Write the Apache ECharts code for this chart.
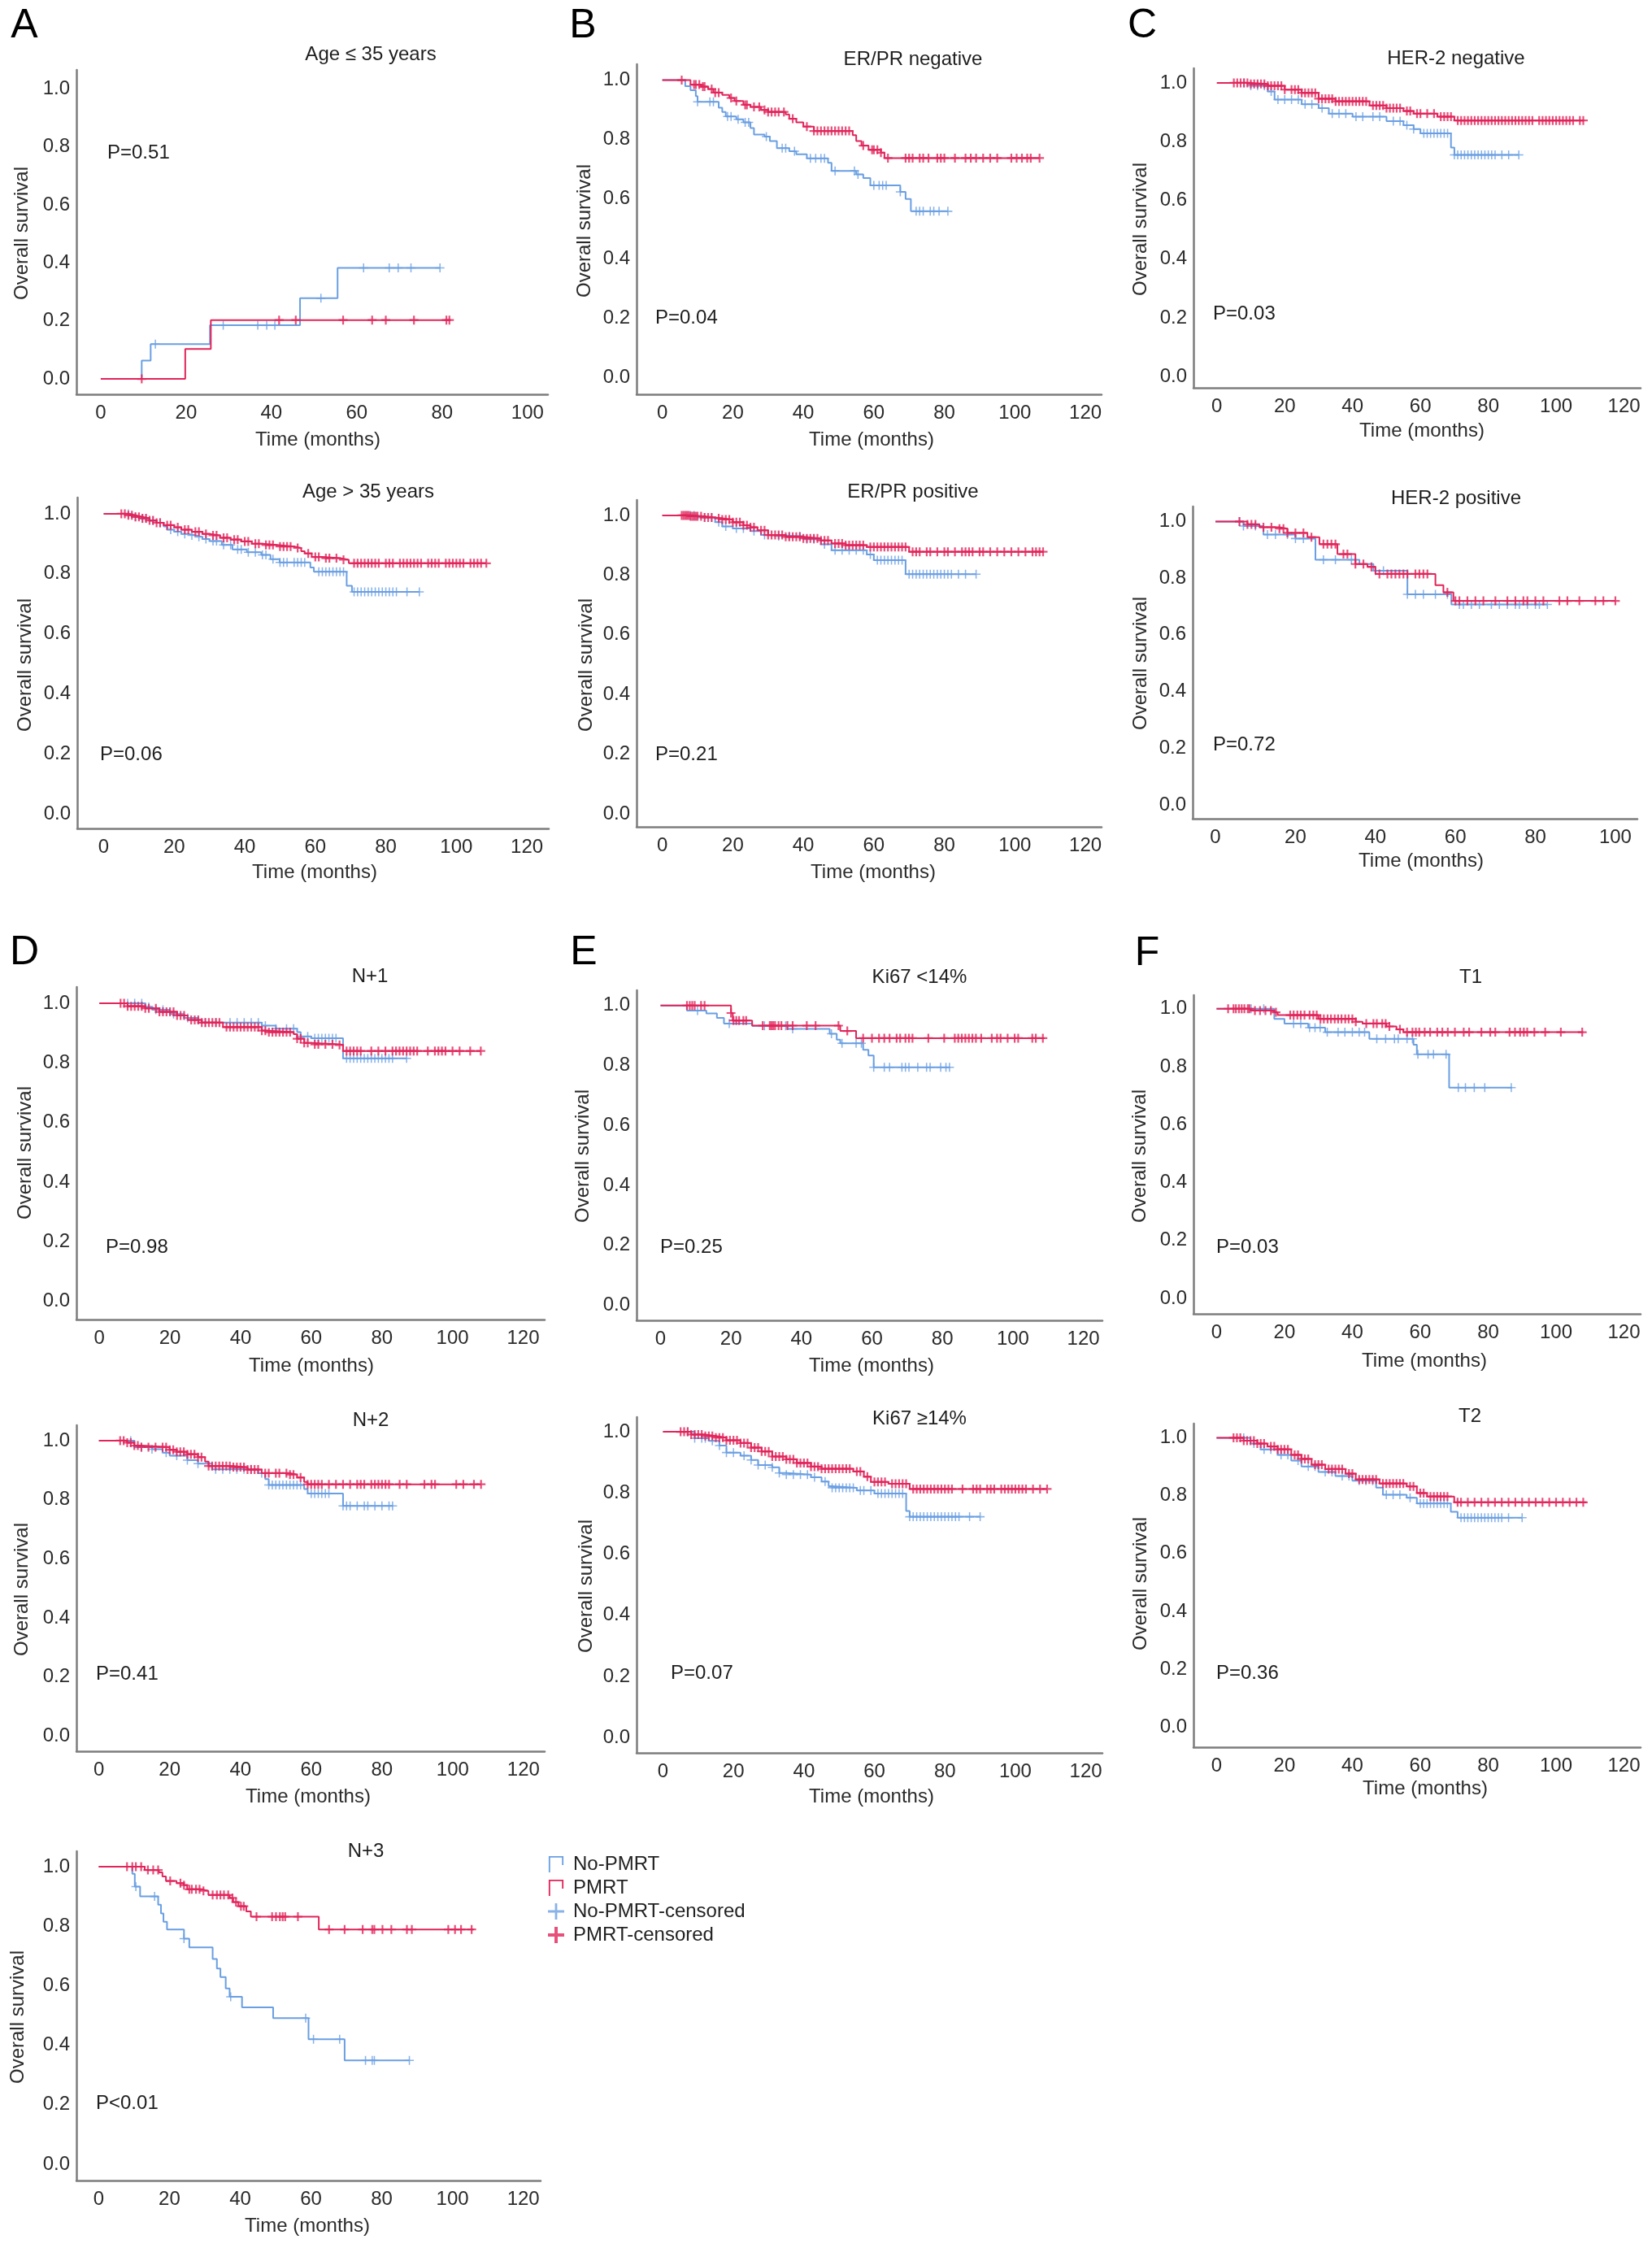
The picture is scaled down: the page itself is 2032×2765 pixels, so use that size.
<!DOCTYPE html>
<html>
<head>
<meta charset="utf-8">
<script src="https://cdn.jsdelivr.net/npm/echarts@6/dist/echarts.min.js"></script>
<style>
html,body{margin:0;padding:0;background:#fff;}
#chart{width:2032px;height:2765px;}
</style>
</head>
<body>
<div id="chart"></div>
<script>
// ---------------- DATA ----------------
const xTicks100 = [0, 20, 40, 60, 80, 100];
const xTicks120 = [0, 20, 40, 60, 80, 100, 120];
const yTicks = [0, 0.2, 0.4, 0.6, 0.8, 1.0];

const panelTitles = ['Age \u2264 35 years','Age > 35 years','ER/PR negative','ER/PR positive','HER-2 negative','HER-2 positive','N+1','N+2','N+3','Ki67 <14%','Ki67 \u226514%','T1','T2'];
const pValues = ['P=0.51','P=0.06','P=0.04','P=0.21','P=0.03','P=0.72','P=0.98','P=0.41','P<0.01','P=0.25','P=0.07','P=0.03','P=0.36'];
const panelLetters = ['A','B','C','D','E','F'];
const seriesNames = ['No-PMRT','PMRT','No-PMRT-censored','PMRT-censored'];

// Kaplan-Meier steps: [time (months), survival after the step]; censored times
const a1NoPmrt = [[0,0],[9.6,0.063],[11.7,0.12],[25.6,0.185],[46.7,0.278],[55.5,0.383],[79.5,0.383]];
const a1Pmrt = [[0,0],[19.8,0.103],[25.8,0.203],[81.9,0.203]];
const a1NoPmrtCens = [12.8,28.7,36.8,38.9,40.8,51.6,61.6,67.6,69.7,72.7,79.5];
const a1PmrtCens = [9.6,41.8,45.7,56.8,63.6,66.8,73.4,81,81.7];

const a2NoPmrt = [[0,1],[6,1],[8,0.99],[10,0.984],[13,0.977],[15,0.97],[17,0.958],[18,0.947],[20,0.94],[22,0.933],[24,0.928],[26,0.923],[28,0.916],[30,0.909],[33.5,0.896],[36.5,0.881],[40.6,0.872],[44.7,0.863],[47.3,0.849],[49.9,0.838],[58.6,0.821],[59.6,0.807],[68.9,0.76],[70.4,0.74],[89.5,0.74]];
const a2Pmrt = [[0,1],[5,1],[7,0.995],[9,0.99],[11,0.985],[13,0.978],[15,0.97],[17,0.962],[20,0.955],[22,0.947],[25,0.94],[28,0.933],[30,0.928],[33,0.92],[36,0.914],[39,0.908],[42,0.9],[45,0.896],[49,0.891],[54,0.886],[56,0.875],[57,0.868],[59,0.856],[62,0.852],[67,0.847],[69.5,0.835],[108.5,0.835]];
const a2NoPmrtCens = [7,9,11,12,14,16,19,21,23,25,27,29,31,32,34,36,38,39,41,43,45,46,48,50,51,52,54,55,56,57,61,62,63,64,65,66,67,68,71,72,73,74,75,76,77,78,79,80,81,82,83,86,89.5];
const a2PmrtCens = [5,6,7,8,9,10,11,12,13,14,15,16,18,19,21,23,24,26,27,29,31,32,34,35,37,38,40,41,43,44,46,47,48,50,51,52,53,55,58,60,61,63,64,66,68,71,72,73,74,75,76,77,78,80,81,82,84,85,86,87,88,89,90,92,93,94,95,97,98,99,100,101,102,104,105,106,107,108.5];

const b1NoPmrt = [[0,1],[6,1],[6.5,0.98],[8,0.966],[9.5,0.946],[10,0.927],[16,0.907],[17,0.893],[18,0.878],[21,0.868],[23,0.858],[25,0.839],[26,0.817],[29,0.81],[30.5,0.795],[32.5,0.771],[36,0.761],[38,0.751],[41,0.737],[47,0.722],[48,0.695],[55,0.683],[57,0.671],[59,0.646],[67.5,0.624],[69,0.6],[70.5,0.559],[81,0.559]];
const b1Pmrt = [[0,1],[6,1],[8,0.985],[11,0.978],[13,0.97],[14.5,0.958],[17,0.95],[19,0.94],[20.5,0.93],[23,0.917],[25,0.91],[28,0.9],[30,0.893],[35,0.885],[36,0.87],[38,0.858],[40,0.844],[43,0.829],[54,0.815],[55,0.795],[56.5,0.78],[58.5,0.766],[62,0.756],[63,0.738],[107,0.738]];
const b1NoPmrtCens = [10,13.5,14.5,18.5,19.5,21.5,23.5,24.5,29.5,34,35,37.5,42,43.5,45,46,49,54.5,55.5,60,61.5,62.5,63.5,67.5,72,73,74,76,77,78.5,81];
const b1PmrtCens = [5.5,9,9.5,10.5,11.5,12,14,15,16,19.5,21,23.5,24,26,27.5,29,30,31,32,33,34.5,37,41,43,44,45,46,47,48,49,50,51,52,53,57,59.5,60,61,62,64,69,70,71,73,74,75.5,78,79,80,83,86,87.5,89,91,93,95,99,100.5,102,103.5,104.5,107];

const b2NoPmrt = [[0,1],[5,1],[10,0.993],[15,0.977],[17,0.963],[20,0.956],[25,0.947],[28,0.934],[30,0.93],[40,0.92],[45,0.903],[48,0.883],[58,0.869],[60,0.85],[69,0.803],[89,0.803]];
const b2Pmrt = [[0,1],[5,1],[8,0.997],[12,0.993],[15,0.99],[17,0.986],[20,0.977],[23,0.967],[25,0.96],[27,0.95],[30,0.934],[35,0.928],[40,0.923],[45,0.916],[48,0.906],[52,0.9],[58,0.894],[70,0.878],[108,0.878]];
const b2NoPmrtCens = [8,9,12,14,16,18,21,23,26,29,33,36,39,41,43,46,49,51,53,55,57,59,61,62,63,64,65,66,67,68,70,71,72,73,74,75,76,77,78,79,80,81,82,84,86,89];
const b2PmrtCens = [5.5,6,6.5,7,7.5,8,8.5,9,9.5,10,11,12,13,14,16,17,18,19,20,21,22,23,24,25,26,28,29,30,31,32,33,34,35,36,37,38,39,40,41,42,43,44,45,46,47,49,50,51,52,53,54,55,56,57,59,60,61,62,63,64,65,66,67,68,69,71,72,73,75,76,78,80,81,83,85,86,87,88,90,91,93,95,97,99,101,103,105,106,107,108];

const c1NoPmrt = [[0,1],[5,1],[10,0.99],[15,0.971],[17,0.943],[25,0.927],[30,0.914],[33,0.895],[40,0.885],[50,0.87],[55,0.856],[58,0.843],[60,0.828],[69,0.78],[70,0.755],[89,0.755]];
const c1Pmrt = [[0,1],[5,1],[10,0.996],[15,0.99],[20,0.977],[25,0.966],[30,0.946],[35,0.937],[45,0.923],[50,0.914],[55,0.904],[58,0.895],[65,0.885],[70,0.872],[108,0.872]];
const c1NoPmrtCens = [8,10,12,14,16,18,20,22,24,26,28,31,34,36,38,41,43,46,48,52,54,56,58,61,62,63,64,65,66,67,68,70,71,72,73,74,75,76,77,78,79,80,81,82,84,86,89];
const c1PmrtCens = [5,6,7,8,9,10,11,12,13,14,15,16,17,18,19,20,22,23,24,25,26,27,28,29,30,31,32,33,34,35,36,37,38,39,40,41,42,43,44,46,47,48,49,50,51,52,53,54,56,57,59,60,62,64,66,67,68,69,71,72,73,74,75,76,77,78,79,80,81,82,83,84,85,86,87,88,89,90,91,92,93,95,96,97,98,99,100,101,102,103,104,105,107,108];

const c2NoPmrt = [[0,1],[6,1],[7,0.984],[12,0.954],[20,0.94],[25,0.865],[36,0.85],[39.5,0.826],[48,0.743],[59,0.707],[83,0.707]];
const c2Pmrt = [[0,1],[6,1],[8,0.99],[11,0.98],[16,0.975],[18,0.96],[23,0.945],[26,0.92],[30.5,0.885],[35,0.85],[38,0.84],[40,0.815],[55,0.775],[57,0.75],[59.5,0.72],[100,0.72]];
const c2NoPmrtCens = [6,7,10,13,15,18,20,22,27,30,34,40,42,48,50,52,55,58,61,62,64,66,69,71,73,75,76,78,80,81,83];
const c2PmrtCens = [6,8,9,10,12,14,16,17,18,20,22,24,27,28,29,30,32,33,35,37,39,41,43,44,45,46,47,48,50,51,52,53,58,60,61,63,65,67,70,73,75,77,78,80,82,86,88,91,95,97,100];

const d1NoPmrt = [[0,1],[6,1],[13,0.988],[15,0.978],[20,0.964],[24,0.951],[28,0.935],[46,0.925],[50,0.915],[56,0.903],[57,0.889],[60,0.883],[69,0.815],[87,0.815]];
const d1Pmrt = [[0,1],[6,1],[8,0.99],[13,0.983],[17,0.971],[22,0.959],[25,0.944],[29,0.935],[35,0.92],[46,0.908],[48,0.903],[55,0.896],[56,0.881],[58,0.867],[60,0.862],[68,0.86],[69,0.84],[108,0.84]];
const d1NoPmrtCens = [8,10,12,14,16,18,21,25,30,33,37,39,41,43,45,47,50,53,55,57,59,61,62,63,64,65,66,67,70,71,72,73,74,75,76,77,78,79,80,81,82,83,87];
const d1PmrtCens = [6,7,8,9,10,11,12,13,14,16,17,18,19,20,21,22,23,24,26,27,28,29,30,31,32,33,34,36,37,38,39,40,41,42,43,44,45,46,47,48,49,50,51,52,53,54,56,57,58,59,61,62,64,66,68,70,71,72,73,74,77,79,81,83,84,85,86,87,88,89,90,93,95,96,97,98,100,102,105,108];

const d2NoPmrt = [[0,1],[6,1],[10,0.978],[15,0.971],[18,0.959],[20,0.949],[25,0.934],[28,0.922],[32,0.903],[45,0.89],[47,0.87],[48,0.85],[58,0.836],[59,0.821],[69,0.779],[83,0.779]];
const d2Pmrt = [[0,1],[6,1],[8,0.993],[10,0.983],[12,0.978],[20,0.969],[22,0.962],[25,0.954],[28,0.944],[30,0.929],[31,0.914],[38,0.91],[42,0.902],[46,0.89],[54,0.885],[56,0.875],[58,0.86],[59,0.852],[108,0.852]];
const d2NoPmrtCens = [9,12,15,19,22,25,28,33,35,37,39,41,43,46,48,49,50,51,52,53,54,55,56,57,60,61,62,63,64,65,69,70,71,73,75,76,78,80,82,83];
const d2PmrtCens = [6,7,8,9,10,11,12,14,16,18,19,20,21,22,23,24,25,26,27,28,29,31,32,33,34,35,36,37,38,39,40,41,42,43,44,45,47,48,50,51,53,54,55,57,59,60,61,62,63,65,67,69,71,73,74,75,77,78,79,80,81,82,85,87,92,94,95,101,103,106,108];

const d3NoPmrt = [[0,1],[8,1],[9.5,0.976],[10.2,0.933],[11.7,0.9],[16.8,0.872],[17.6,0.843],[18.3,0.815],[19.3,0.789],[24.1,0.758],[25.6,0.729],[32.2,0.69],[33.4,0.658],[34.4,0.629],[35.9,0.591],[37,0.563],[40.5,0.527],[49.3,0.491],[59.3,0.42],[69.5,0.349],[87.8,0.349]];
const d3Pmrt = [[0,1],[12.4,1],[13,0.989],[17,0.981],[18,0.967],[19,0.952],[22,0.945],[24,0.938],[25,0.924],[29,0.919],[31,0.905],[37,0.895],[38,0.881],[39.5,0.867],[41.7,0.85],[43,0.832],[62.2,0.789],[106,0.789]];
const d3NoPmrtCens = [10.5,15.8,24.1,37.3,58.5,60.7,68.1,75.4,77.3,77.9,87.8];
const d3PmrtCens = [8,9.5,10.5,12,13.9,15.4,16.8,20.2,23.1,24.1,25.6,26.3,27.5,28.5,29.6,32.2,33.4,34.4,35.4,36.6,37.8,38.8,40.2,41,44.6,49,50.1,51.2,52,52.7,56.3,65.1,69.5,74.6,77.3,77.9,80.2,82.7,87.1,88.5,98.8,100.7,102.4,105.4];

const e1NoPmrt = [[0,1],[7,1],[7.5,0.983],[13,0.974],[16,0.959],[18,0.94],[26,0.932],[36,0.922],[48,0.906],[50,0.886],[51,0.874],[57.5,0.852],[59,0.833],[60.5,0.794],[82,0.794]];
const e1Pmrt = [[0,1],[19,1],[20,0.975],[20.5,0.95],[26,0.933],[51,0.915],[55.5,0.891],[109,0.891]];
const e1NoPmrtCens = [10.5,19.5,29.5,35.5,37.5,48.5,51.5,55.5,57,60.5,63.5,65,68.5,69.5,70.5,73,75.5,76.5,79.5,81,82];
const e1PmrtCens = [7.5,8.3,9,9.7,11.5,12.5,20,20.7,21.5,22.3,23.5,24.3,29,31,31.5,32,32.5,33.5,34.3,36,37.5,41.5,44,50.5,53,57.5,60,62,63.5,65,67,68,69.5,70.5,71.5,76,80.5,83.5,84.5,85.5,86.5,87.5,88.5,89.5,91,94,95.5,96.5,98.5,100.5,101.5,105.5,106.5,108.5];

const e2NoPmrt = [[0,1],[6,1],[9,0.979],[13,0.97],[16,0.955],[18,0.932],[22,0.922],[25,0.908],[27,0.891],[31,0.884],[33,0.865],[35,0.86],[42,0.851],[45,0.837],[47,0.822],[48,0.817],[55,0.808],[60,0.798],[69,0.741],[70,0.722],[90,0.722]];
const e2Pmrt = [[0,1],[5,1],[8,0.991],[12,0.986],[15,0.981],[18,0.972],[22,0.963],[25,0.948],[28,0.936],[31,0.919],[35,0.91],[38,0.898],[42,0.886],[45,0.879],[54,0.87],[57,0.853],[59,0.836],[64,0.83],[70,0.813],[109,0.813]];
const e2NoPmrtCens = [7,9,11,12,14,16,18,20,23,25,27,29,31,33,35,37,39,41,43,46,48,49,50,51,52,53,54,56,57,59,61,62,63,64,65,66,67,68,70,71,72,73,74,75,76,77,78,79,80,81,82,83,84,87,90];
const e2PmrtCens = [5,6,7,8,9,10,11,12,13,14,15,16,17,18,19,20,21,22,23,24,25,26,27,28,29,30,31,32,33,34,35,36,37,38,39,40,41,42,43,44,45,46,47,48,49,50,51,52,53,55,56,58,60,61,62,63,65,66,67,68,69,71,72,73,74,75,76,77,78,79,80,81,82,85,88,89,90,92,93,94,96,97,98,99,100,101,102,103,105,107,109];

const f1NoPmrt = [[0,1],[16,1],[17,0.965],[20,0.949],[27,0.935],[32,0.919],[45,0.896],[58,0.876],[59,0.843],[68.5,0.728],[87,0.728]];
const f1Pmrt = [[0,1],[9,1],[10,0.994],[17,0.988],[18,0.978],[30,0.965],[41,0.955],[43,0.949],[50,0.939],[53,0.929],[55,0.919],[108,0.919]];
const f1NoPmrtCens = [10.2,13.9,22.7,24.8,27.4,29,30.5,32.6,35.8,37.8,40,42,43.6,47.2,49.8,52.4,53.5,56.1,57.7,59.3,62.3,63.9,67.6,71.2,73.3,75.9,79,86.8];
const f1PmrtCens = [3.4,5,5.7,6.6,7.4,8.2,9.2,9.7,11.3,12.8,14.4,16,17.5,21.7,22.7,23.8,24.8,25.9,27.4,28.5,29.5,30.6,31.6,32.7,33.7,34.8,35.8,36.8,37.9,38.9,40,41,44.1,46.2,47.2,48.8,49.8,50.9,54,56.1,57.7,58.7,59.7,61.3,62.9,65,66.5,68.1,70.2,72.8,74.4,78,80.6,82.1,86.3,87.9,89.4,90.5,91.5,93.6,96.8,101.4,107.7];

const f2NoPmrt = [[0,1],[6,1],[10,0.98],[13,0.96],[18,0.941],[22,0.921],[25,0.901],[30,0.882],[35,0.868],[40,0.852],[47,0.828],[49,0.803],[56,0.793],[59,0.773],[69,0.744],[71,0.724],[90,0.724]];
const f2Pmrt = [[0,1],[5,1],[8,0.99],[12,0.98],[15,0.97],[18,0.96],[22,0.941],[25,0.927],[28,0.907],[32,0.892],[38,0.876],[41,0.856],[48,0.842],[56,0.832],[59,0.809],[62,0.797],[70,0.777],[109,0.777]];
const f2NoPmrtCens = [8,11,14,16,19,21,24,27,29,32,34,37,39,42,44,46,50,52,54,57,60,61,62,63,64,65,66,67,68,72,73,74,75,76,77,78,79,80,81,82,83,84,86,90];
const f2PmrtCens = [5,6,7,8,9,10,11,12,13,14,16,17,18,19,20,21,23,24,25,26,27,29,30,31,33,34,35,36,37,39,40,42,43,44,45,46,47,49,50,51,52,53,54,55,57,58,60,61,63,64,65,66,67,68,71,72,74,76,78,80,82,84,86,88,90,92,94,96,98,100,102,104,106,108];

// ---------------- LAYOUT (pixel positions, styles) ----------------
const BLUE = '#6a9fe2';
const RED = '#e1245a';
const FONT = "'Liberation Sans', Arial, Helvetica, sans-serif";
const TXT = '#1e1e1e';

const panelData = [
  [a1NoPmrt, a1Pmrt, a1NoPmrtCens, a1PmrtCens],
  [a2NoPmrt, a2Pmrt, a2NoPmrtCens, a2PmrtCens],
  [b1NoPmrt, b1Pmrt, b1NoPmrtCens, b1PmrtCens],
  [b2NoPmrt, b2Pmrt, b2NoPmrtCens, b2PmrtCens],
  [c1NoPmrt, c1Pmrt, c1NoPmrtCens, c1PmrtCens],
  [c2NoPmrt, c2Pmrt, c2NoPmrtCens, c2PmrtCens],
  [d1NoPmrt, d1Pmrt, d1NoPmrtCens, d1PmrtCens],
  [d2NoPmrt, d2Pmrt, d2NoPmrtCens, d2PmrtCens],
  [d3NoPmrt, d3Pmrt, d3NoPmrtCens, d3PmrtCens],
  [e1NoPmrt, e1Pmrt, e1NoPmrtCens, e1PmrtCens],
  [e2NoPmrt, e2Pmrt, e2NoPmrtCens, e2PmrtCens],
  [f1NoPmrt, f1Pmrt, f1NoPmrtCens, f1PmrtCens],
  [f2NoPmrt, f2Pmrt, f2NoPmrtCens, f2PmrtCens]
];

// grid [left, top, width, height], x range, y range, ticks, title centre, P left/centre, y-name centre, x-name centre
const layout = [
  {g:[94,86,580,399],   x:[-5.7,104.8], y:[-0.053,1.065],  t:xTicks100, ti:[456,67],   p:[132,188],   yl:[27,287],   xl:[391,541]},
  {g:[95,612,580,407],  x:[-7.5,126.2], y:[-0.0485,1.054], t:xTicks120, ti:[453,605],  p:[123,928],   yl:[31,818],   xl:[387,1073]},
  {g:[783,79,572,406],  x:[-7.3,124.6], y:[-0.0565,1.0535],t:xTicks120, ti:[1123,73],  p:[806,391],   yl:[719,284],  xl:[1072,541]},
  {g:[783,615,572,402], x:[-7.3,124.6], y:[-0.043,1.0514], t:xTicks120, ti:[1123,605], p:[806,928],   yl:[721,818],  xl:[1074,1073]},
  {g:[1468,84,550,393], x:[-6.9,124.9], y:[-0.038,1.0496], t:xTicks120, ti:[1791,72],  p:[1492,386],  yl:[1403,282], xl:[1749,530]},
  {g:[1467,623,547,384],x:[-5.7,105.5], y:[-0.049,1.053],  t:xTicks100, ti:[1791,613], p:[1492,916],  yl:[1403,816], xl:[1748,1059]},
  {g:[94,1214,576,409], x:[-6.5,126.1], y:[-0.061,1.0545], t:xTicks120, ti:[455,1201], p:[130,1534],  yl:[31,1418],  xl:[383,1680]},
  {g:[94,1753,576,401], x:[-6.36,126],  y:[-0.051,1.052],  t:xTicks120, ti:[456,1747], p:[118,2059],  yl:[27,1955],  xl:[379,2210]},
  {g:[94,2277,571,405], x:[-6.3,124.9], y:[-0.055,1.052],  t:xTicks120, ti:[450,2277], p:[118,2587],  yl:[22,2481],  xl:[378,2738]},
  {g:[783,1218,573,406],x:[-6.8,125.4], y:[-0.0506,1.051], t:xTicks120, ti:[1131,1202],p:[812,1534],  yl:[717,1422], xl:[1072,1680]},
  {g:[783,1743,573,413],x:[-7.5,124.7], y:[-0.05,1.048],   t:xTicks120, ti:[1131,1745],p:[825,2058],  yl:[721,1951], xl:[1072,2210]},
  {g:[1468,1224,550,392],x:[-6.8,124.9],y:[-0.053,1.047],  t:xTicks120, ti:[1809,1202],p:[1496,1534], yl:[1402,1422],xl:[1752,1674]},
  {g:[1468,1751,550,398],x:[-6.8,124.9],y:[-0.069,1.049],  t:xTicks120, ti:[1808,1742],p:[1496,2058], yl:[1403,1948],xl:[1753,2200]}
];
const letterPos = [[30,32],[717,32],[1405,32],[30,1172],[718,1172],[1411,1173]];

// survival value at a censoring time (look-up on the step curve)
function survAt(steps, t) {
  let s = steps[0][1];
  for (const st of steps) { if (st[0] <= t) s = st[1]; else break; }
  return s;
}

const PLUS_THIN = 'path://M4.3,0H5.7V4.3H10V5.7H5.7V10H4.3V5.7H0V4.3H4.3Z';
const PLUS_BOLD = 'path://M4,0H6V4H10V6H6V10H4V6H0V4H4Z';
const STEP_ICON = 'path://M0,22V0H20V12H18V2H2V22Z';

const grids = [], xAxes = [], yAxes = [], series = [], graphics = [];
layout.forEach((L, i) => {
  grids.push({left: L.g[0], top: L.g[1], width: L.g[2], height: L.g[3], containLabel: false});
  xAxes.push({
    type: 'value', gridIndex: i, min: L.x[0], max: L.x[1],
    axisLine: {show: true, onZero: false, lineStyle: {color: '#7d7d7d', width: 2.5}},
    axisTick: {show: false}, splitLine: {show: false},
    axisLabel: {customValues: L.t, margin: 11, fontSize: 24, color: '#2b2b2b', fontFamily: FONT, formatter: v => String(v)}
  });
  yAxes.push({
    type: 'value', gridIndex: i, min: L.y[0], max: L.y[1],
    axisLine: {show: true, onZero: false, lineStyle: {color: '#7d7d7d', width: 2.5}},
    axisTick: {show: false}, splitLine: {show: false},
    axisLabel: {customValues: yTicks, margin: 8, fontSize: 24, color: '#2b2b2b', fontFamily: FONT, formatter: v => v.toFixed(1)}
  });
  const [noP, p, noPC, pC] = panelData[i];
  series.push({
    name: seriesNames[0], type: 'line', step: 'end', xAxisIndex: i, yAxisIndex: i,
    data: noP, showSymbol: false, symbol: 'none', lineStyle: {color: BLUE, width: 2}, itemStyle: {color: BLUE}, z: 2, silent: true
  });
  series.push({
    name: seriesNames[2], type: 'scatter', xAxisIndex: i, yAxisIndex: i,
    data: noPC.map(t => [t, survAt(noP, t)]), symbol: PLUS_THIN, symbolSize: 11,
    itemStyle: {color: BLUE}, z: 3, silent: true
  });
  series.push({
    name: seriesNames[1], type: 'line', step: 'end', xAxisIndex: i, yAxisIndex: i,
    data: p, showSymbol: false, symbol: 'none', lineStyle: {color: RED, width: 2}, itemStyle: {color: RED}, z: 4, silent: true
  });
  series.push({
    name: seriesNames[3], type: 'scatter', xAxisIndex: i, yAxisIndex: i,
    data: pC.map(t => [t, survAt(p, t)]), symbol: PLUS_BOLD, symbolSize: 11,
    itemStyle: {color: RED}, z: 5, silent: true
  });
  graphics.push({type: 'text', x: L.ti[0], y: L.ti[1], style: {text: panelTitles[i], align: 'center', verticalAlign: 'middle', fontSize: 24, fontFamily: FONT, fill: TXT}});
  graphics.push({type: 'text', x: L.p[0], y: L.p[1], style: {text: pValues[i], align: 'left', verticalAlign: 'middle', fontSize: 24, fontFamily: FONT, fill: TXT}});
  graphics.push({type: 'text', x: L.yl[0], y: L.yl[1], rotation: Math.PI / 2, style: {text: 'Overall survival', align: 'center', verticalAlign: 'middle', fontSize: 24, fontFamily: FONT, fill: '#2b2b2b'}});
  graphics.push({type: 'text', x: L.xl[0], y: L.xl[1], style: {text: 'Time (months)', align: 'center', verticalAlign: 'middle', fontSize: 24, fontFamily: FONT, fill: '#2b2b2b'}});
});
panelLetters.forEach((ch, k) => {
  graphics.push({type: 'text', x: letterPos[k][0], y: letterPos[k][1], style: {text: ch, align: 'center', verticalAlign: 'middle', fontSize: 50, fontFamily: FONT, fill: '#000'}});
});

const chart = echarts.init(document.getElementById('chart'), null, {renderer: 'canvas'});
chart.setOption({
  animation: false,
  backgroundColor: '#ffffff',
  grid: grids, xAxis: xAxes, yAxis: yAxes, series: series,
  legend: {
    orient: 'vertical', left: 669, top: 2276, itemGap: 5, itemWidth: 20, itemHeight: 20,
    selectedMode: false,
    textStyle: {fontSize: 24, fontFamily: FONT, color: '#222', padding: [0, 0, 0, 6]},
    itemStyle: {borderWidth: 0},
    data: [
      {name: seriesNames[0], icon: STEP_ICON, itemStyle: {color: BLUE, borderWidth: 0}},
      {name: seriesNames[1], icon: STEP_ICON, itemStyle: {color: RED, borderWidth: 0}},
      {name: seriesNames[2], icon: PLUS_THIN, itemStyle: {color: BLUE, borderWidth: 0}},
      {name: seriesNames[3], icon: PLUS_BOLD, itemStyle: {color: RED, borderWidth: 0}}
    ]
  },
  graphic: graphics
});
</script>
</body>
</html>
